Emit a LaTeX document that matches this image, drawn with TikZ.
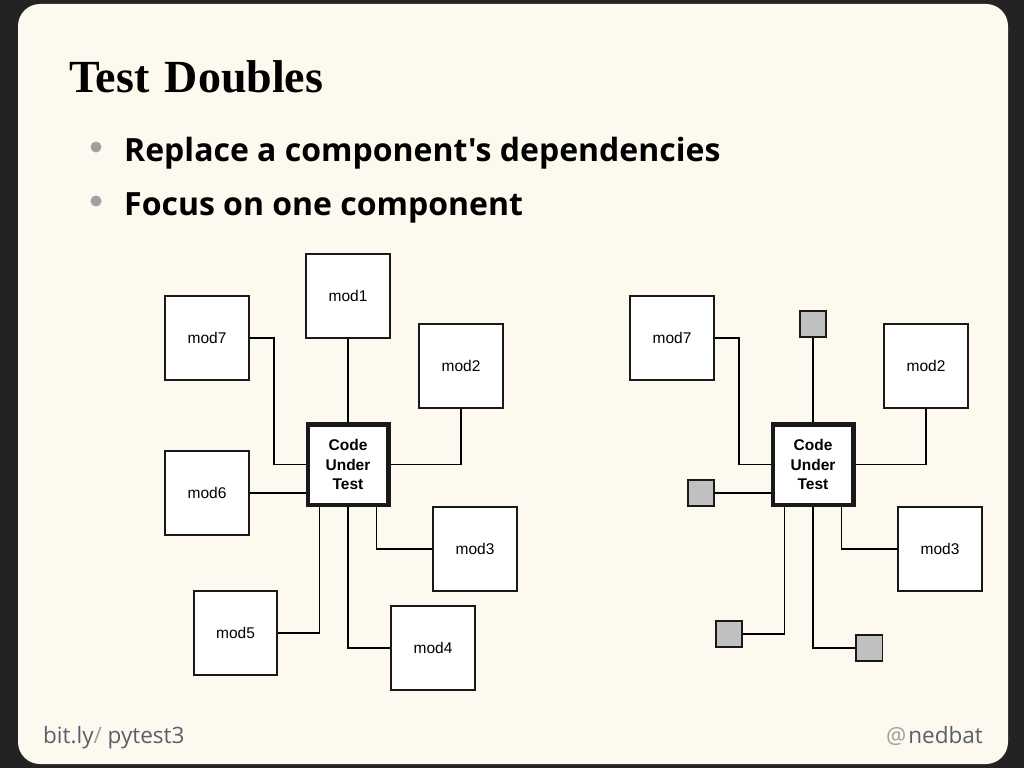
\documentclass[tikz,border=0pt]{standalone}
\usepackage{fontspec}
\setmainfont{Liberation Serif}
\setsansfont{Liberation Sans}
\newfontfamily\slidefont{Open Sans}
\definecolor{outerbg}{HTML}{232323}
\definecolor{cream}{HTML}{FDF9EF}
\definecolor{dotgray}{HTML}{A0A0A0}
\definecolor{footgray}{HTML}{5A6068}
\definecolor{stubgray}{HTML}{C0C0C0}
\begin{document}
\begin{tikzpicture}[x=1pt,y=-1pt,
    modbox/.style={draw=black!90,fill=white,line width=1.8pt,minimum size=83.5pt,inner sep=0pt,
      font=\sffamily\fontsize{15.5}{19.5}\selectfont},
    cutbox/.style={modbox,line width=4.5pt,minimum size=80.5pt,align=center,
      font=\sffamily\bfseries\fontsize{15.5}{19.5}\selectfont},
    stubbox/.style={draw=black!90,fill=stubgray,line width=1.8pt,minimum size=26.5pt,inner sep=0pt},
    wire/.style={line width=1.8pt}]
  \useasboundingbox (0,0) rectangle (1024,768);
  \fill[outerbg] (0,0) rectangle (1024,768);
  \fill[cream,rounded corners=22pt] (18,4) rectangle (1008,764);

  % title and bullets
  \node[anchor=base west,inner sep=0pt,font=\bfseries\fontsize{46}{50}\selectfont] (title) at (69,92) {Test\hspace{4pt} Doubles};
  \foreach \i/\y/\t in {1/161/Replace a component's dependencies,2/215/Focus on one component} {
      \node[circle,fill=dotgray,minimum size=11pt,inner sep=0pt] (dot\i) at (96,\y-14) {};
      \node[anchor=base west,inner sep=0pt,font=\slidefont\bfseries\fontsize{32}{38}\selectfont] (item\i) at (124,\y) {\t};
    }

  % all real modules
  \foreach \n/\x/\y in {1/348/296,2/461/366,3/475/549,4/433/648,5/235.5/633,6/207/493,7/207/338} {
      \node[modbox] (mod\n) at (\x,\y) {mod\n};
    }
  \node[cutbox] (cut) at (348,464.5) {Code\\Under\\Test};
  \draw[wire] (mod1) -- (cut);
  \draw[wire] (mod2.south) |- (cut.east);
  \draw[wire] (mod7.east) -- ++(24,0) |- (cut.west);
  \draw[wire] (mod6.east) -- (mod6.east -| cut.west);
  \draw[wire] ([xshift=28.5pt]cut.south) |- (mod3.west);
  \draw[wire] (cut.south) |- (mod4.west);
  \draw[wire] ([xshift=-28.5pt]cut.south) |- (mod5.east);

  % with test doubles
  \begin{scope}[xshift=465pt]
    \foreach \n/\x/\y in {2/461/366,3/475/549,7/207/338} {
        \node[modbox] (rmod\n) at (\x,\y) {mod\n};
      }
    \node[stubbox,anchor=south] (fake1) at (348,338) {};
    \node[stubbox,anchor=west] (fake4) at (390,648) {};
    \node[stubbox,anchor=east] (fake5) at (278,634) {};
    \node[stubbox,anchor=east] (fake6) at (250,493) {};
    \node[cutbox] (rcut) at (348,464.5) {Code\\Under\\Test};
    \draw[wire] (fake1) -- (rcut);
    \draw[wire] (rmod2.south) |- (rcut.east);
    \draw[wire] (rmod7.east) -- ++(24,0) |- (rcut.west);
    \draw[wire] (fake6.east) -- (fake6.east -| rcut.west);
    \draw[wire] ([xshift=28.5pt]rcut.south) |- (rmod3.west);
    \draw[wire] (rcut.south) |- (fake4.west);
    \draw[wire] ([xshift=-28.5pt]rcut.south) |- (fake5.east);
  \end{scope}

  % footer
  \node[anchor=base west,inner sep=0pt,font=\slidefont\fontsize{22.5}{26}\selectfont,text=footgray] (link) at (43,743)
    {bit.ly\textcolor{dotgray}{/} pytest3};
  \node[anchor=base east,inner sep=0pt,font=\slidefont\fontsize{22.5}{26}\selectfont,text=footgray] (handle) at (983,743)
    {\textcolor{dotgray}{@}\kern2pt nedbat};
\end{tikzpicture}
\end{document}
